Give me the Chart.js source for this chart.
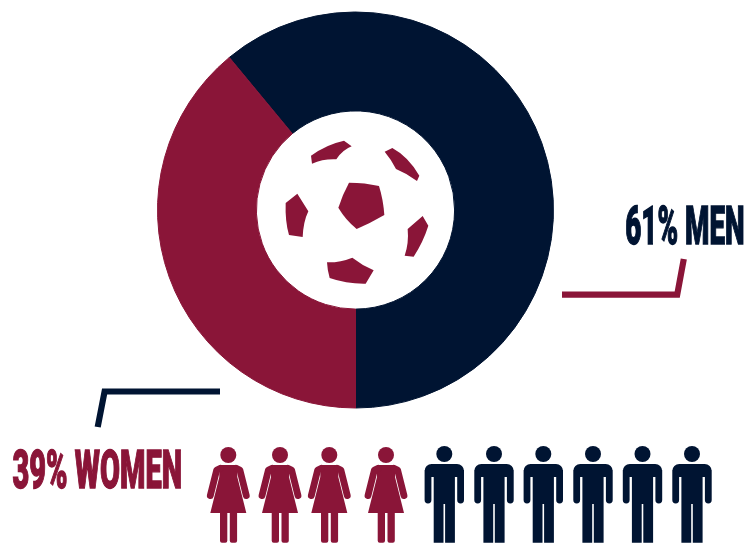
<!DOCTYPE html>
<html>
<head>
<meta charset="utf-8">
<title>Men and women</title>
<style>
  html, body { margin: 0; padding: 0; background: #fff; }
  canvas { display: block; }
</style>
<script src="https://cdn.jsdelivr.net/npm/chart.js@4"></script>
</head>
<body>
<canvas id="chart" width="752" height="543"></canvas>
<script>
const categories = ['MEN', 'WOMEN'];
const shares = [61, 39];
const iconCounts = [6, 4];

const NAVY = '#001432';
const CRIMSON = '#8a1538';

// Horizontal centres of the pictogram figures.
const womanX = [228.3, 280, 329.3, 386];
const manX = [444.3, 494, 543.3, 593, 642.5, 692];

// Ball panels, in a 600-unit square laid over the hole of the ring.
// Two numbers make a straight edge; four give a curve control and its end.
const panels = [
  [[282,218],[330,218,372,228],[385,270,388,315],[345,340,305,357],[272,330,250,293],[262,255,282,218]],
  [[168,137],[215,103,267,92],[290,109],[262,120,244,148],[205,146,171,161]],
  [[389,125],[412,114],[460,140,493,197],[486,213],[455,190,423,177],[410,150,389,125]],
  [[92,279],[127,251],[160,304],[145,335,143,381],[102,375],[90,335,92,279]],
  [[503,318],[520,347],[505,395,476,440],[449,437],[462,400,458,357]],
  [[216,457],[255,458,292,443],[320,465,356,481],[332,521],[275,522,224,504],[217,480,216,457]]
];

function drawPanels(ctx) {
  ctx.save();
  ctx.translate(255, 110);
  ctx.scale(1 / 3, 1 / 3);
  ctx.fillStyle = CRIMSON;
  panels.forEach(p => {
    ctx.beginPath();
    p.forEach((s, i) => {
      if (i === 0) ctx.moveTo(s[0], s[1]);
      else if (s.length === 2) ctx.lineTo(s[0], s[1]);
      else ctx.quadraticCurveTo(s[0], s[1], s[2], s[3]);
    });
    ctx.closePath();
    ctx.fill();
  });
  ctx.restore();
}

function drawLeader(ctx, pts, color) {
  ctx.save();
  ctx.strokeStyle = color;
  ctx.lineWidth = 6.2;
  ctx.lineJoin = 'miter';
  ctx.lineCap = 'butt';
  ctx.beginPath();
  pts.forEach(([x, y], i) => i ? ctx.lineTo(x, y) : ctx.moveTo(x, y));
  ctx.stroke();
  ctx.restore();
}

// Condensed heavy caption fitted between two x positions, baseline at y.
function drawCaption(ctx, text, left, right, y, color) {
  ctx.save();
  ctx.font = '900 53.2px Roboto, "Liberation Sans", sans-serif';
  ctx.textAlign = 'left';
  ctx.textBaseline = 'alphabetic';
  const weight = 1.4;
  const w = ctx.measureText(text).width;
  ctx.translate(left + 0.5, y - weight / 2);
  ctx.scale((right - left - 1) / w, 1);
  ctx.fillStyle = ctx.strokeStyle = color;
  ctx.lineWidth = weight;
  ctx.lineJoin = 'miter';
  ctx.fillText(text, 0, 0);
  ctx.strokeText(text, 0, 0);
  ctx.restore();
}

function drawWoman(ctx, cx) {
  ctx.save();
  ctx.translate(cx, 0);
  ctx.fillStyle = ctx.strokeStyle = CRIMSON;
  ctx.beginPath();
  ctx.arc(0, 455, 8, 0, Math.PI * 2);
  ctx.fill();
  // dress
  ctx.beginPath();
  ctx.moveTo(-9, 465); ctx.lineTo(9, 465); ctx.lineTo(9, 477);
  ctx.lineTo(18, 513); ctx.lineTo(-18, 513); ctx.lineTo(-9, 477);
  ctx.closePath();
  ctx.fill();
  // arms
  ctx.lineWidth = 6.8;
  ctx.lineCap = 'round';
  ctx.lineJoin = 'round';
  [-1, 1].forEach(s => {
    ctx.beginPath();
    ctx.moveTo(s * 8, 468.4);
    ctx.lineTo(s * 11.6, 470);
    ctx.lineTo(s * 18, 495.6);
    ctx.stroke();
  });
  // legs
  ctx.beginPath();
  ctx.roundRect(-8.3, 512, 7.3, 30.7, [0, 0, 2, 2]);
  ctx.roundRect(1.5, 512, 7.3, 30.7, [0, 0, 2, 2]);
  ctx.fill();
  ctx.restore();
}

function drawMan(ctx, cx) {
  ctx.save();
  ctx.translate(cx, 0);
  ctx.fillStyle = NAVY;
  ctx.beginPath();
  ctx.arc(0, 454, 8, 0, Math.PI * 2);
  ctx.fill();
  ctx.beginPath();
  // shoulders
  ctx.roundRect(-19.7, 464, 39.4, 13, [7, 7, 0, 0]);
  // arms
  ctx.roundRect(-19.7, 470, 6.8, 33.4, [0, 0, 3.4, 3.4]);
  ctx.roundRect(12.9, 470, 6.8, 33.4, [0, 0, 3.4, 3.4]);
  // torso
  ctx.rect(-10.6, 470, 21.2, 34);
  // legs
  ctx.rect(-10.6, 503, 9.8, 39.7);
  ctx.rect(0.8, 503, 9.8, 39.7);
  ctx.fill();
  ctx.restore();
}

const annotations = {
  id: 'annotations',
  afterDraw(chart) {
    const ctx = chart.ctx;
    drawPanels(ctx);
    drawLeader(ctx, [[562, 294.7], [677.2, 294.7], [683.8, 259]], CRIMSON);
    drawLeader(ctx, [[220, 391.5], [104.6, 391.5], [97.7, 427]], NAVY);
    drawCaption(ctx, `${shares[0]}% ${categories[0]}`, 624.7, 745, 245, NAVY);
    drawCaption(ctx, `${shares[1]}% ${categories[1]}`, 12, 182.5, 488.3, CRIMSON);
    for (let i = 0; i < iconCounts[1]; i++) drawWoman(ctx, womanX[i]);
    for (let i = 0; i < iconCounts[0]; i++) drawMan(ctx, manX[i]);
  }
};

new Chart(document.getElementById('chart'), {
  type: 'doughnut',
  data: {
    labels: categories,
    datasets: [{
      data: shares,
      backgroundColor: [NAVY, CRIMSON],
      // A hairline in each arc's own colour hides the seam between arcs.
      borderColor: [NAVY, CRIMSON],
      borderWidth: 1,
      hoverOffset: 0
    }]
  },
  options: {
    responsive: false,
    animation: false,
    // The men's arc ends at the bottom of the ring.
    rotation: 180 - shares[0] * 3.6,
    cutout: '50.05%',
    layout: { padding: { left: 157, right: 198, top: 11.5, bottom: 134.5 } },
    plugins: { legend: { display: false }, tooltip: { enabled: false } }
  },
  plugins: [annotations]
});
</script>
</body>
</html>
